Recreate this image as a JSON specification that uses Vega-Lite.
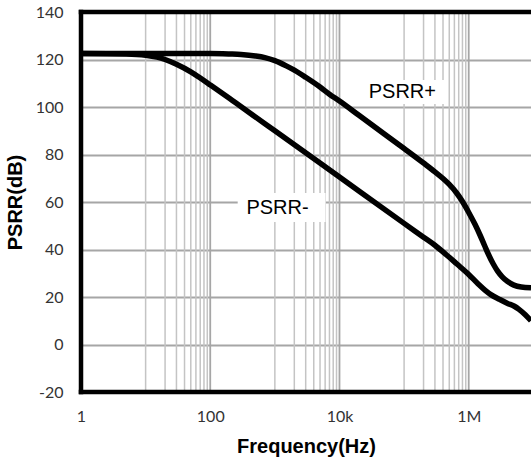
{
  "$schema": "https://vega.github.io/schema/vega-lite/v6.json",
  "autosize": "none",
  "width": 450,
  "height": 380,
  "padding": {"left": 81, "top": 12, "right": 0, "bottom": 69},
  "background": "white",
  "config": {"view": {"stroke": null}},
  "datasets": {
    "curves": [
      {"series": "PSRR+", "freq": 1, "psrr": 122.5},
      {"series": "PSRR+", "freq": 10, "psrr": 122.5},
      {"series": "PSRR+", "freq": 100, "psrr": 122.5},
      {"series": "PSRR+", "freq": 200, "psrr": 122.3},
      {"series": "PSRR+", "freq": 300, "psrr": 122.1},
      {"series": "PSRR+", "freq": 500, "psrr": 121.5},
      {"series": "PSRR+", "freq": 700, "psrr": 120.8},
      {"series": "PSRR+", "freq": 1000, "psrr": 119.5},
      {"series": "PSRR+", "freq": 1500, "psrr": 117.3},
      {"series": "PSRR+", "freq": 2000, "psrr": 115.5},
      {"series": "PSRR+", "freq": 3000, "psrr": 112.5},
      {"series": "PSRR+", "freq": 5000, "psrr": 108.4},
      {"series": "PSRR+", "freq": 7000, "psrr": 105.4},
      {"series": "PSRR+", "freq": 10000, "psrr": 102.5},
      {"series": "PSRR+", "freq": 20000, "psrr": 96.5},
      {"series": "PSRR+", "freq": 50000, "psrr": 88.5},
      {"series": "PSRR+", "freq": 100000, "psrr": 82.5},
      {"series": "PSRR+", "freq": 200000, "psrr": 76.4},
      {"series": "PSRR+", "freq": 300000, "psrr": 72.7},
      {"series": "PSRR+", "freq": 400000, "psrr": 69.9},
      {"series": "PSRR+", "freq": 500000, "psrr": 67.4},
      {"series": "PSRR+", "freq": 650000, "psrr": 63.8},
      {"series": "PSRR+", "freq": 800000, "psrr": 60.2},
      {"series": "PSRR+", "freq": 1000000, "psrr": 55.6},
      {"series": "PSRR+", "freq": 1250000, "psrr": 50.6},
      {"series": "PSRR+", "freq": 1500000, "psrr": 46.0},
      {"series": "PSRR+", "freq": 1750000, "psrr": 41.8},
      {"series": "PSRR+", "freq": 2000000, "psrr": 38.2},
      {"series": "PSRR+", "freq": 2400000, "psrr": 33.9},
      {"series": "PSRR+", "freq": 2800000, "psrr": 30.9},
      {"series": "PSRR+", "freq": 3300000, "psrr": 28.5},
      {"series": "PSRR+", "freq": 4000000, "psrr": 26.5},
      {"series": "PSRR+", "freq": 5000000, "psrr": 25.0},
      {"series": "PSRR+", "freq": 6500000, "psrr": 24.2},
      {"series": "PSRR+", "freq": 9200000, "psrr": 23.9},
      {"series": "PSRR-", "freq": 1, "psrr": 122.5},
      {"series": "PSRR-", "freq": 5, "psrr": 122.3},
      {"series": "PSRR-", "freq": 10, "psrr": 121.8},
      {"series": "PSRR-", "freq": 15, "psrr": 121},
      {"series": "PSRR-", "freq": 20, "psrr": 120},
      {"series": "PSRR-", "freq": 30, "psrr": 118},
      {"series": "PSRR-", "freq": 50, "psrr": 114.8},
      {"series": "PSRR-", "freq": 70, "psrr": 112.2},
      {"series": "PSRR-", "freq": 100, "psrr": 109.3},
      {"series": "PSRR-", "freq": 200, "psrr": 103.6},
      {"series": "PSRR-", "freq": 500, "psrr": 95.8},
      {"series": "PSRR-", "freq": 1000, "psrr": 90},
      {"series": "PSRR-", "freq": 10000, "psrr": 70.5},
      {"series": "PSRR-", "freq": 100000, "psrr": 51},
      {"series": "PSRR-", "freq": 200000, "psrr": 45.2},
      {"series": "PSRR-", "freq": 300000, "psrr": 41.8},
      {"series": "PSRR-", "freq": 450000, "psrr": 37.8},
      {"series": "PSRR-", "freq": 650000, "psrr": 34},
      {"series": "PSRR-", "freq": 1000000, "psrr": 29.5},
      {"series": "PSRR-", "freq": 1400000, "psrr": 25.5},
      {"series": "PSRR-", "freq": 1800000, "psrr": 22.8},
      {"series": "PSRR-", "freq": 2200000, "psrr": 21},
      {"series": "PSRR-", "freq": 3000000, "psrr": 19},
      {"series": "PSRR-", "freq": 4000000, "psrr": 17.3},
      {"series": "PSRR-", "freq": 5000000, "psrr": 16.2},
      {"series": "PSRR-", "freq": 6000000, "psrr": 14.8},
      {"series": "PSRR-", "freq": 7500000, "psrr": 12.5},
      {"series": "PSRR-", "freq": 9200000, "psrr": 10}
    ],
    "minorGrid": [
      {"freq": 10}, {"freq": 20}, {"freq": 30}, {"freq": 40}, {"freq": 50}, {"freq": 60}, {"freq": 70}, {"freq": 80}, {"freq": 90},
      {"freq": 1000}, {"freq": 2000}, {"freq": 3000}, {"freq": 4000}, {"freq": 5000}, {"freq": 6000}, {"freq": 7000}, {"freq": 8000}, {"freq": 9000},
      {"freq": 100000}, {"freq": 200000}, {"freq": 300000}, {"freq": 400000}, {"freq": 500000}, {"freq": 600000}, {"freq": 700000}, {"freq": 800000}, {"freq": 900000}
    ],
    "majorGrid": [
      {"freq": 100}, {"freq": 10000}, {"freq": 1000000}
    ],
    "hFrame": [{"psrr": 140}, {"psrr": -20}],
    "vFrame": [{"freq": 1}],
    "labels": [
      {"label": "PSRR+", "freq": 94000, "psrr": 106.3, "x1": 18970, "x2": 465600, "y1": 101.3, "y2": 111.4},
      {"label": "PSRR-", "freq": 1100, "psrr": 57.5, "x1": 266, "x2": 6080, "y1": 51.6, "y2": 63.8}
    ]
  },
  "layer": [
    {
      "data": {"name": "minorGrid"},
      "mark": {"type": "rule", "color": "#c4c4c4", "strokeWidth": 1.5},
      "encoding": {
        "x": {
          "field": "freq", "type": "quantitative",
          "scale": {"type": "log", "domain": [1, 9200000], "nice": false},
          "axis": {
            "values": [1, 100, 10000, 1000000],
            "labelExpr": "datum.value == 1 ? '1' : datum.value == 100 ? '100' : datum.value == 10000 ? '10k' : '1M'",
            "grid": false, "domain": false, "ticks": false,
            "labelFont": "Lato", "labelFontSize": 16, "labelColor": "#333333",
            "labelPadding": 16, "labelDx": -4, "labelFlush": false, "labelOverlap": false,
            "title": "Frequency(Hz)", "titleFont": "Liberation Sans", "titleFontSize": 20,
            "titleFontWeight": "bold", "titleColor": "#000000", "titlePadding": 12
          }
        }
      }
    },
    {
      "data": {"name": "majorGrid"},
      "mark": {"type": "rule", "color": "#a6a6a6", "strokeWidth": 1.8},
      "encoding": {"x": {"field": "freq", "type": "quantitative"}}
    },
    {
      "data": {"name": "labels"},
      "mark": {"type": "rect", "fill": "white"},
      "encoding": {
        "x": {"field": "x1", "type": "quantitative"},
        "x2": {"field": "x2"},
        "y": {"field": "y1", "type": "quantitative"},
        "y2": {"field": "y2"}
      }
    },
    {
      "data": {"name": "curves"},
      "mark": {"type": "line", "color": "black", "strokeWidth": 5.5, "interpolate": "monotone", "strokeCap": "butt"},
      "encoding": {
        "x": {"field": "freq", "type": "quantitative"},
        "y": {
          "field": "psrr", "type": "quantitative",
          "scale": {"domain": [-20, 140], "nice": false},
          "axis": {
            "values": [-20, 0, 20, 40, 60, 80, 100, 120, 140],
            "labelExpr": "'' + datum.value",
            "grid": true, "gridColor": "#a6a6a6", "gridWidth": 2,
            "domain": false, "ticks": false,
            "labelFont": "Lato", "labelFontSize": 16, "labelColor": "#333333",
            "labelPadding": 18,
            "title": "PSRR(dB)", "titleFont": "Liberation Sans", "titleFontSize": 20,
            "titleFontWeight": "bold", "titleColor": "#000000", "titlePadding": 10
          }
        },
        "detail": {"field": "series", "type": "nominal"}
      }
    },
    {
      "data": {"name": "hFrame"},
      "mark": {"type": "rule", "color": "black", "strokeWidth": 4.5, "strokeCap": "square"},
      "encoding": {"y": {"field": "psrr", "type": "quantitative"}}
    },
    {
      "data": {"name": "vFrame"},
      "mark": {"type": "rule", "color": "black", "strokeWidth": 4.5, "strokeCap": "square"},
      "encoding": {"x": {"field": "freq", "type": "quantitative"}}
    },
    {
      "data": {"name": "labels"},
      "mark": {"type": "text", "font": "Liberation Sans", "fontSize": 20, "color": "black", "align": "center", "baseline": "middle"},
      "encoding": {
        "x": {"field": "freq", "type": "quantitative"},
        "y": {"field": "psrr", "type": "quantitative"},
        "text": {"field": "label"}
      }
    }
  ]
}
